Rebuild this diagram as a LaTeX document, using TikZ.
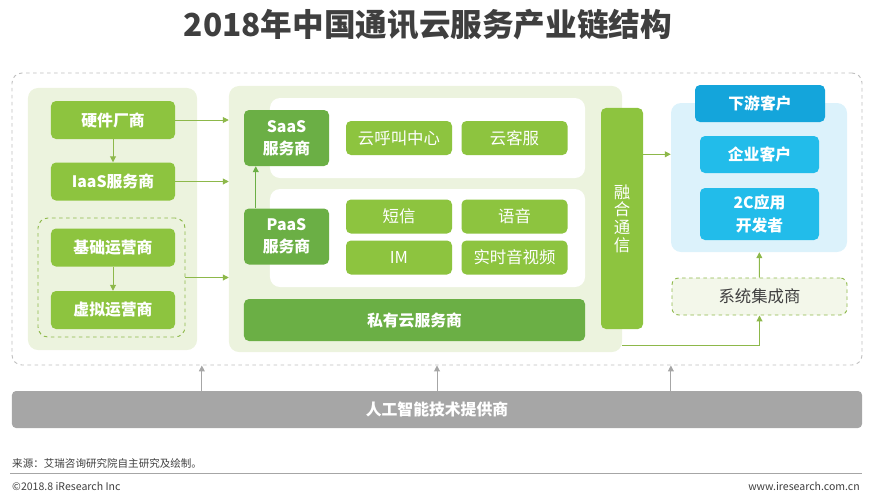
\documentclass[tikz,border=0pt]{standalone}
\usepackage{fontspec}
\setmainfont{Noto Sans CJK SC}
\usepackage{tikz}
\usetikzlibrary{arrows.meta,calc,positioning}
\definecolor{ink}{HTML}{3F3F3F}
\definecolor{leaf}{HTML}{8DC43F}
\definecolor{moss}{HTML}{6BAF45}
\definecolor{pale}{HTML}{ECF3DE}
\definecolor{sky}{HTML}{22BCEA}
\definecolor{deep}{HTML}{14A5DB}
\definecolor{skypale}{HTML}{DCF2FB}
\definecolor{line}{HTML}{8DB84A}
\definecolor{ash}{HTML}{A6A6A6}
\definecolor{rim}{HTML}{BFBFBF}
\definecolor{sipale}{HTML}{F3F7EA}

\tikzset{
  box/.style={rounded corners=0.15cm,inner sep=0pt,text=white,align=center,font=\fontsize{13.5}{19}\selectfont\bfseries},
  greenbox/.style={box,fill=leaf,minimum width=3.72cm,minimum height=1.14cm},
  itembox/.style={box,fill=leaf,minimum width=3.18cm,minimum height=1.02cm,font=\fontsize{14}{17}\selectfont},
  mossbox/.style={box,fill=moss},
  panel/.style={rounded corners=0.3cm,inner sep=0pt,fill=pale},
  whitebox/.style={rounded corners=0.3cm,inner sep=0pt,fill=white},
  arr/.style={line,thick,-{Triangle[length=5pt,width=5pt]}},
  grayarr/.style={ash,thick,-{Triangle[length=5pt,width=5pt]}}
}

\begin{document}
\begin{tikzpicture}[x=0.03cm,y=-0.03cm]
\useasboundingbox (0,0) rectangle (869,497);
\node[text=ink,font=\fontsize{27}{32}\selectfont\bfseries] (title) at (428,25) {2018年中国通讯云服务产业链结构};
\node[draw=rim,dashed,thick,rounded corners=0.3cm,minimum width=25.5cm,minimum height=8.76cm] (outer) at (437,219) {};

% upstream
\node[panel,minimum width=5.07cm,minimum height=7.86cm] (left) at (112.5,219) {};
\node[greenbox] (hw) at (113,120) {硬件厂商};
\node[greenbox] (iaas) at (113,181.5) {IaaS服务商};
\node[draw=line,dashed,thick,rounded corners=0.3cm,minimum width=4.41cm,minimum height=3.57cm] (opgrp) at (111.5,277.5) {};
\node[greenbox] (base) at (113,247.5) {基础运营商};
\node[greenbox] (virt) at (113,310) {虚拟运营商};
\draw[arr] (hw) -- (iaas);
\draw[arr] (base) -- (virt);

% midstream
\node[panel,minimum width=11.79cm,minimum height=7.98cm] (mid) at (425.5,219) {};
\node[whitebox,minimum width=9.45cm,minimum height=2.4cm] (saasrow) at (427.5,138) {};
\node[whitebox,minimum width=9.45cm,minimum height=2.94cm] (paasrow) at (427.5,238) {};
\node[mossbox,minimum width=2.55cm,minimum height=1.68cm] (saas) at (286.5,138) {SaaS\\服务商};
\node[mossbox,minimum width=2.55cm,minimum height=1.68cm] (paas) at (286.5,236.5) {PaaS\\服务商};
\node[itembox] (callc) at (399,138) {云呼叫中心};
\node[itembox] (kefu) at (514.5,138) {云客服};
\node[itembox] (sms) at (399,216.5) {短信};
\node[itembox] (voice) at (514.5,216.5) {语音};
\node[itembox] (im) at (399,257.5) {IM};
\node[itembox] (rtc) at (514.5,257.5) {实时音视频};
\node[mossbox,minimum width=10.23cm,minimum height=1.26cm] (priv) at (414.5,320) {私有云服务商};
\node[itembox,minimum width=1.26cm,minimum height=6.63cm,font=\fontsize{14}{15}\selectfont] (fuse) at (622,218.5) {融\\合\\通\\信};
\draw[moss,thick,-{Triangle[length=5pt,width=5pt]}] ([xshift=0.36cm]paas.north west) -- ([xshift=0.36cm]saas.south west);

\draw[arr] (hw.east) -- (hw.east -| mid.west);
\draw[arr] (iaas.east) -- (iaas.east -| mid.west);
\draw[arr] (opgrp.east) -- (opgrp.east -| mid.west);

% downstream
\node[panel,fill=skypale,minimum width=5.28cm,minimum height=4.47cm] (right) at (759,177.5) {};
\node[box,fill=deep,minimum width=3.9cm,minimum height=1.11cm] (down) at (760,103.5) {下游客户};
\node[box,fill=sky,minimum width=3.57cm,minimum height=1.11cm] (ent) at (759.5,154.5) {企业客户};
\node[box,fill=sky,minimum width=3.57cm,minimum height=1.56cm] (dev) at (759.5,214) {2C应用\\开发者};
\node[draw=line,dashed,thick,fill=sipale,rounded corners=0.2cm,text=ink,font=\fontsize{14}{17}\selectfont,minimum width=5.25cm,minimum height=1.11cm] (si) at (759.5,296.5) {系统集成商};
\coordinate (fuseout) at ($(fuse.north east)!0.21!(fuse.south east)$);
\draw[arr] (fuseout) -- (fuseout -| right.west);
\draw[arr] (si) -- (right);
\draw[arr] ([yshift=0.21cm]mid.south east) -| (si);

% AI
\node[box,fill=ash,minimum width=25.5cm,minimum height=1.11cm,rounded corners=0.12cm] (ai) at (437,409.5) {人工智能技术提供商};
\foreach \f in {0.2235,0.5,0.775}
  \draw[grayarr] ($(ai.north west)!\f!(ai.north east)$) coordinate (p) -- (p |- outer.south);

% footer
\node[anchor=west,text=ink,font=\fontsize{9}{11}\selectfont,inner sep=0pt] (src) at (12,463) {来源：艾瑞咨询研究院自主研究及绘制。};
\draw[ash] (10,473) coordinate (rl) -- (862,473) coordinate (rr);
\node[anchor=west,text=ink,font=\fontsize{9}{11}\selectfont,inner sep=0pt] (copy) at (12,486) {©2018.8 iResearch Inc};
\node[anchor=east,text=ink,font=\fontsize{9}{11}\selectfont,inner sep=0pt] (web) at (860,486) {www.iresearch.com.cn};
\end{tikzpicture}
\end{document}
